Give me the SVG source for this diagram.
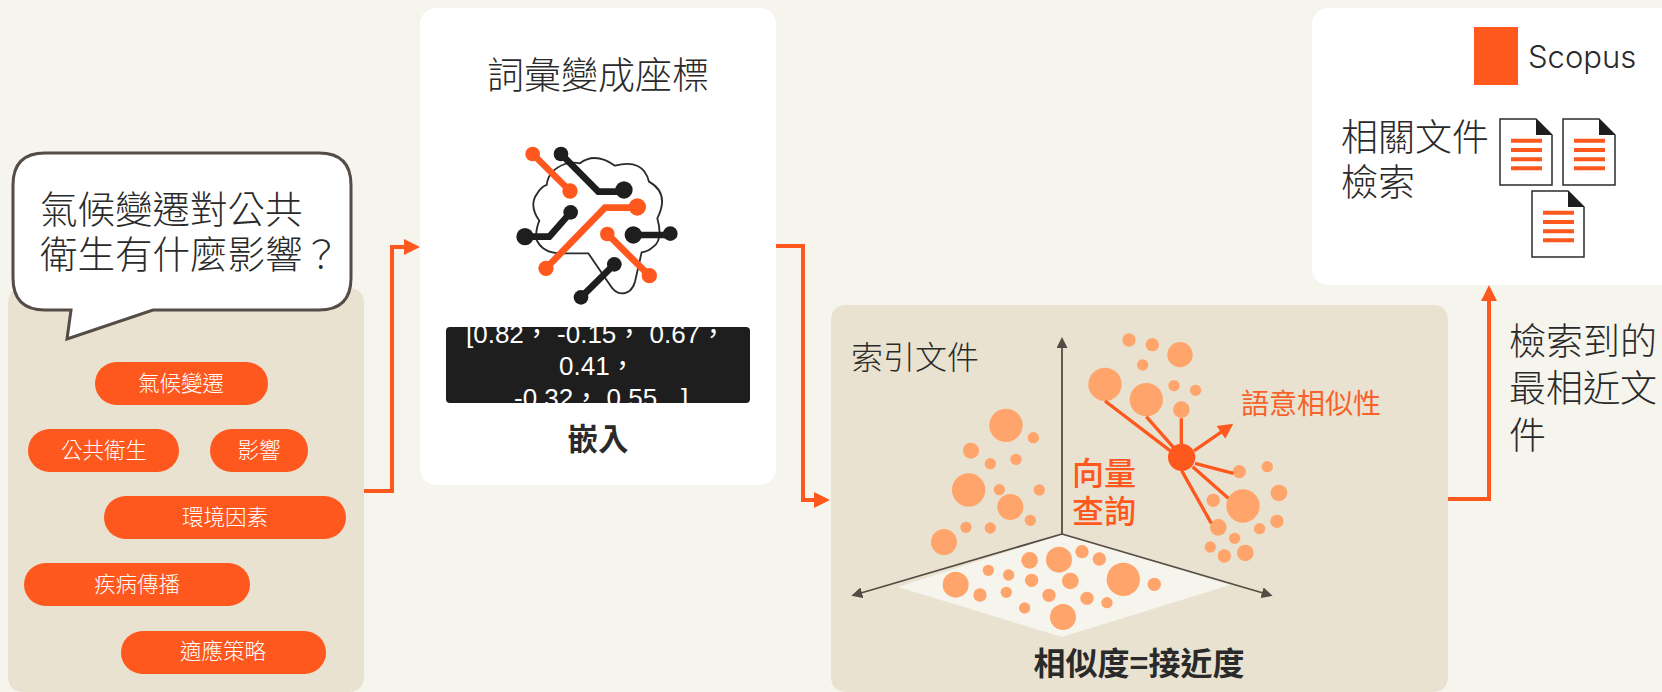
<svg xmlns="http://www.w3.org/2000/svg" width="1662" height="692" viewBox="0 0 1662 692">
<style>
text{font-family:"Noto Sans CJK TC","Noto Sans CJK SC",sans-serif;fill:#2a2a2a;font-weight:300}
.panel{fill:#e9e2d0}
.card{fill:#fff}
.pill{fill:#ff581e}
.pt{fill:#fff;font-size:21.500px;text-anchor:middle}
.t36{font-size:37px}
.conn{fill:none;stroke:#ff581e;stroke-width:4}
.axis{fill:none;stroke:#554a44;stroke-width:1.8}
.p circle{fill:#ffa56c}
.ray{stroke:#ff581e;stroke-width:10;fill:none}
.dk{stroke:#1e1e1e;stroke-width:20;fill:none}
.or{stroke:#ff581e;stroke-width:20;fill:none}
.dkf{fill:#1e1e1e}
.orf{fill:#ff581e}
.doc{fill:#fff;stroke:#2b2b2b;stroke-width:1.5}
.ln{stroke:#ff581e;stroke-width:4}
.vec{font-family:"Liberation Sans","Noto Sans CJK TC",sans-serif;font-size:26px;fill:#fff;font-weight:400}
.hot{font-size:32px;fill:#ff581e;font-weight:500}
.strong{font-weight:700}
</style>
<defs>
<marker id="ah" markerUnits="userSpaceOnUse" markerWidth="16" markerHeight="16" refX="1" refY="8" orient="auto"><path d="M0 0L16 8L0 16Z" fill="#ff581e"/></marker>
<marker id="ax" markerUnits="userSpaceOnUse" markerWidth="11" markerHeight="11" refX="1" refY="5.5" orient="auto"><path d="M0 0L11 5.5L0 11Z" fill="#554a44"/></marker>
<clipPath id="vc"><rect x="446" y="327" width="304" height="76" rx="4"/></clipPath>
<g id="docicon"><path class="doc" d="M0 0H36L52 16V66H0Z"/><path class="dkf" d="M36 0L52 16H36Z"/><path class="ln" d="M11 21.700H42M11 31H42M11 40.300H42M11 49.300H42"/></g>
</defs>
<rect width="1662" height="692" fill="#f5f4ed"/>

<g id="connectors">
<polyline class="conn" points="364,491 392,491 392,247 405,247" marker-end="url(#ah)"/>
<polyline class="conn" points="776,246 803,246 803,500 815,500" marker-end="url(#ah)"/>
<polyline class="conn" points="1448,499 1489,499 1489,300" marker-end="url(#ah)"/>
</g>

<g id="query-panel">
<path class="panel" d="M24 288H348Q364 288 364 304V676Q364 692 348 692H24Q8 692 8 676V304Q8 288 24 288Z"/>
<g id="kw1"><rect class="pill" x="95" y="362" width="173" height="43" rx="21.500"/><text class="pt" x="181" y="391">氣候變遷</text></g>
<g id="kw2"><rect class="pill" x="28" y="429" width="151" height="43" rx="21.500"/><text class="pt" x="104" y="458">公共衛生</text></g>
<g id="kw3"><rect class="pill" x="210" y="429" width="98" height="43" rx="21.500"/><text class="pt" x="259" y="458">影響</text></g>
<g id="kw4"><rect class="pill" x="104" y="496" width="242" height="43" rx="21.500"/><text class="pt" x="225" y="525">環境因素</text></g>
<g id="kw5"><rect class="pill" x="24" y="563" width="226" height="43" rx="21.500"/><text class="pt" x="137" y="592">疾病傳播</text></g>
<g id="kw6"><rect class="pill" x="121" y="631" width="205" height="43" rx="21.500"/><text class="pt" x="223" y="659">適應策略</text></g>
</g>

<g id="bubble">
<path fill="#fff" stroke="#554b47" stroke-width="3" d="M45 153H319Q351 153 351 185V278Q351 310 319 310H153L67 339L71 310H45Q13 310 13 278V185Q13 153 45 153Z"/>
<text x="40" y="223" style="font-size:37.500px">氣候變遷對公共</text>
<text x="40" y="268" style="font-size:37.500px">衛生有什麼影響？</text>
</g>

<g id="embed-card">
<rect class="card" x="420" y="8" width="356" height="477" rx="16"/>
<text class="t36" x="598" y="89" text-anchor="middle">詞彙變成座標</text>
<g id="brain" transform="translate(500 130) scale(.3333)">
<path fill="none" stroke="#2b2b2b" stroke-width="5.500" d="M265 370L185 370Q125 370 108 325Q108 295 118 272Q85 225 112 190Q125 170 140 165Q145 120 195 102Q215 95 240 100Q285 65 345 107Q430 85 447 155Q510 190 472 265Q490 330 460 350Q445 365 425 367L405 455Q395 490 365 490Q345 490 330 465Z"/>
<path class="or" d="M98 72L210 183"/>
<path class="dk" d="M183 72L295 185H372"/>
<path class="or" d="M138 415L315 233H412"/>
<path class="dk" d="M75 320H148L212 247"/>
<path class="or" d="M322 312L448 437"/>
<path class="dk" d="M400 315H511"/>
<path class="dk" d="M243 502L343 403"/>
<circle class="orf" cx="98" cy="72" r="22"/><circle class="orf" cx="210" cy="183" r="23"/>
<circle class="dkf" cx="183" cy="72" r="22"/><circle class="dkf" cx="372" cy="180" r="26"/>
<circle class="orf" cx="138" cy="415" r="23"/><circle class="orf" cx="412" cy="231" r="26"/>
<circle class="dkf" cx="75" cy="320" r="26"/><circle class="dkf" cx="212" cy="247" r="22"/>
<circle class="orf" cx="322" cy="312" r="22"/><circle class="orf" cx="448" cy="437" r="23"/>
<circle class="dkf" cx="400" cy="315" r="26"/><circle class="dkf" cx="511" cy="311" r="22"/>
<circle class="dkf" cx="243" cy="502" r="22"/><circle class="dkf" cx="343" cy="403" r="22"/>
</g>
<rect x="446" y="327" width="304" height="76" rx="4" fill="#1e1e1e"/>
<g clip-path="url(#vc)">
<text class="vec" x="466" y="343">[0.82， -0.15， 0.67，</text>
<text class="vec" x="559" y="375">0.41，</text>
<text class="vec" x="514" y="407">-0.32， 0.55<tspan x="681">]</tspan></text>
</g>
<text class="strong" x="598" y="450" text-anchor="middle" style="font-size:30.500px">嵌入</text>
</g>

<g id="index-panel">
<path class="panel" d="M847 305H1432Q1448 305 1448 321V676Q1448 692 1432 692H847Q831 692 831 676V321Q831 305 847 305Z"/>
<text x="851" y="369" style="font-size:32px">索引文件</text>
<polygon points="1062,534 898,587 1062,637 1230,585" fill="#f5f4ed"/>
<g id="axes">
<path class="axis" d="M1062 534V347" marker-end="url(#ax)"/>
<path class="axis" d="M1062 534L861 593" marker-end="url(#ax)"/>
<path class="axis" d="M1062 534L1263 593" marker-end="url(#ax)"/>
</g>
<g class="p" transform="translate(830 300) scale(.3333)">
<circle cx="528" cy="376" r="50"/><circle cx="610" cy="413" r="17"/><circle cx="423" cy="452" r="24"/><circle cx="481" cy="491" r="17"/><circle cx="558" cy="478" r="17"/><circle cx="416" cy="570" r="50"/><circle cx="508" cy="569" r="17"/><circle cx="628" cy="570" r="17"/><circle cx="541" cy="621" r="39"/><circle cx="601" cy="661" r="17"/><circle cx="408" cy="682" r="17"/><circle cx="481" cy="684" r="17"/><circle cx="342" cy="726" r="39"/>
<circle cx="599" cy="781" r="25"/><circle cx="687" cy="779" r="39"/><circle cx="756" cy="755" r="20"/><circle cx="808" cy="777" r="20"/><circle cx="475" cy="811" r="17"/><circle cx="536" cy="825" r="17"/><circle cx="377" cy="854" r="39"/><circle cx="605" cy="841" r="20"/><circle cx="721" cy="843" r="25"/><circle cx="880" cy="838" r="50"/><circle cx="973" cy="853" r="20"/><circle cx="450" cy="885" r="20"/><circle cx="529" cy="877" r="17"/><circle cx="657" cy="886" r="20"/><circle cx="771" cy="895" r="20"/><circle cx="831" cy="908" r="17"/><circle cx="584" cy="924" r="17"/><circle cx="699" cy="951" r="39"/>
</g>
<g class="p" transform="translate(1040 320) scale(.3333)">
<circle cx="267" cy="60" r="20"/><circle cx="337" cy="74" r="20"/><circle cx="420" cy="104" r="38"/><circle cx="308" cy="135" r="17"/><circle cx="195" cy="193" r="50"/><circle cx="319" cy="239" r="50"/><circle cx="402" cy="197" r="17"/><circle cx="467" cy="211" r="17"/><circle cx="424" cy="269" r="25"/>
<circle cx="598" cy="455" r="20"/><circle cx="682" cy="440" r="17"/><circle cx="717" cy="519" r="25"/><circle cx="520" cy="541" r="20"/><circle cx="609" cy="558" r="50"/><circle cx="711" cy="604" r="20"/><circle cx="659" cy="626" r="17"/><circle cx="535" cy="622" r="25"/><circle cx="584" cy="655" r="17"/><circle cx="511" cy="681" r="17"/><circle cx="553" cy="708" r="20"/><circle cx="616" cy="699" r="25"/>
</g>
<g id="query-rays" transform="translate(1040 320) scale(.3333)">
<path class="ray" d="M195 243L390 392M319 290L403 385M424 295V375M465 430L580 460M458 440L565 535M425 452L514 610M462 393L550 332"/>
<polygon class="orf" points="580,311 530,318 556,356"/>
<circle class="orf" cx="425" cy="412" r="41"/>
</g>
<text class="hot" x="1072" y="485">向量</text>
<text class="hot" x="1072" y="523">查詢</text>
<text x="1241" y="414" style="font-size:28px;fill:#f8622a;font-weight:400">語意相似性</text>
<text class="strong" x="1139" y="675" text-anchor="middle" style="font-size:32px">相似度=接近度</text>
</g>

<g id="scopus-card">
<rect class="card" x="1312" y="8" width="366" height="277" rx="16"/>
<rect class="orf" x="1474" y="27" width="44" height="58"/>
<text x="1528" y="68" style="font-family:Inter,sans-serif;font-size:31px">Scopus</text>
<text class="t36" x="1341" y="151">相關文件</text>
<text class="t36" x="1341" y="196">檢索</text>
<use href="#docicon" x="1500" y="119"/>
<use href="#docicon" x="1563" y="119"/>
<use href="#docicon" x="1532" y="191"/>
</g>

<g id="result-label">
<text class="t36" x="1509" y="355">檢索到的</text>
<text class="t36" x="1509" y="402">最相近文</text>
<text class="t36" x="1509" y="449">件</text>
</g>
</svg>
